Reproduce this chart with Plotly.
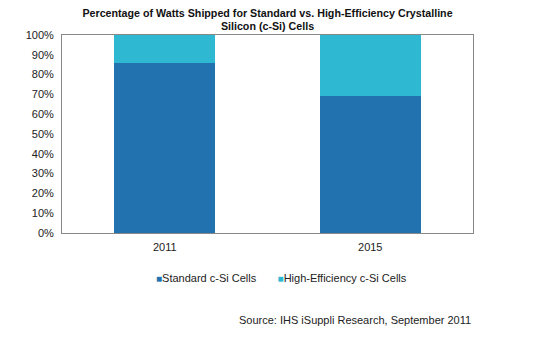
import plotly.graph_objects as go

categories = ["2011", "2015"]
standard = [86, 69]
high_eff = [14, 31]
series_names = ["Standard c-Si Cells", "High-Efficiency c-Si Cells"]
series_colors = ["#2272B0", "#2FB8D1"]
tick_vals = [0, 10, 20, 30, 40, 50, 60, 70, 80, 90, 100]
tick_text = [f"{v}%" for v in tick_vals]

FONT = "Liberation Sans, Arial, sans-serif"

fig = go.Figure()
fig.add_trace(go.Bar(x=categories, y=standard, name=series_names[0],
                     marker=dict(color=series_colors[0], line=dict(width=0))))
fig.add_trace(go.Bar(x=categories, y=high_eff, name=series_names[1],
                     marker=dict(color=series_colors[1], line=dict(width=0))))

legend_text = "&nbsp;&nbsp;&nbsp;&nbsp;&nbsp;&nbsp;&nbsp;".join(
    f"<span style='color:{c};font-size:10px'>■</span>{n}"
    for n, c in zip(series_names, series_colors))

fig.update_layout(
    width=535, height=337,
    barmode="stack", bargap=0.51,
    margin=dict(l=62, r=62, t=35, b=104),
    paper_bgcolor="white", plot_bgcolor="white",
    font=dict(family=FONT, size=11, color="#222"),
    title=dict(text="<b>Percentage of Watts Shipped for Standard vs. High-Efficiency Crystalline<br>Silicon (c-Si) Cells</b>",
               x=0.5, xanchor="center", y=0.951, yanchor="middle",
               font=dict(family=FONT, size=10.7, color="#111")),
    showlegend=False,
    xaxis=dict(showline=True, linecolor="#888", linewidth=1, mirror=True,
               ticks="", showgrid=False, tickfont=dict(size=11),
               ticklabelstandoff=4),
    yaxis=dict(range=[0, 100], tickvals=tick_vals, ticktext=tick_text,
               showline=True, linecolor="#888", linewidth=1, mirror=True,
               showgrid=False, ticks="", zeroline=False, tickfont=dict(size=11),
               ticklabelstandoff=5),
    annotations=[
        dict(text=legend_text, xref="paper", yref="paper", x=0.535, y=-0.225,
             xanchor="center", yanchor="middle", showarrow=False,
             font=dict(family=FONT, size=11, color="#222")),
        dict(text="Source: IHS iSuppli Research, September 2011",
             xref="paper", yref="paper", x=1.0, y=-0.44,
             xanchor="right", yanchor="middle", showarrow=False,
             font=dict(family=FONT, size=11, color="#222")),
    ],
)

fig.write_html("out.html")
